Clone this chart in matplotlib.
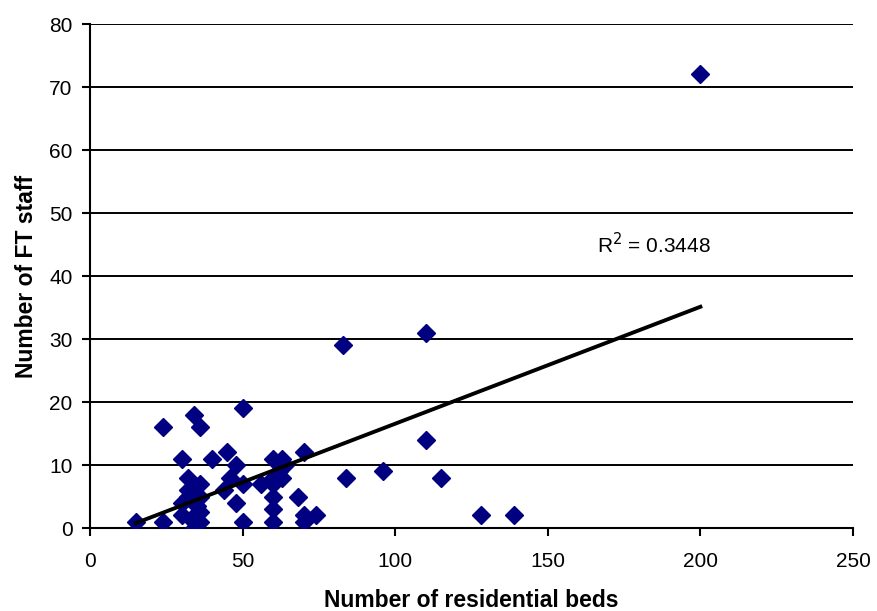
import numpy as np
import matplotlib.pyplot as plt

plt.rcParams['font.family'] = ['Liberation Sans', 'DejaVu Sans']

# residential beds vs full-time staff
beds = [15, 24, 24, 34, 36, 50, 30, 40, 45, 48, 60, 32, 36, 46, 50, 44, 56, 60,
        60, 60, 60, 50, 48, 30, 32, 32, 30, 33, 34, 36, 36, 35, 36, 34,
        83, 110, 110, 70, 84, 96, 115, 128, 139, 68, 70, 74, 70, 63, 63, 64,
        60, 62, 200]
staff = [1, 1, 16, 18, 16, 19, 11, 11, 12, 10, 11, 8, 7, 8, 7, 6, 7, 7,
         5, 3, 1, 1, 4, 4, 6, 5, 2, 1.5, 0, 2.5, 1, 3.5, 5, 6.5,
         29, 31, 14, 12, 8, 9, 8, 2, 2, 5, 2, 2, 1, 11, 8, 10,
         8, 9, 72]
r2_label = 'R$^2$ = 0.3448'

fig = plt.figure(figsize=(8.77, 6.11), dpi=100)
ax = fig.add_axes([0.1026, 0.1358, 0.87, 0.8249])

ax.set_xlim(0, 250)
ax.set_ylim(0, 80)
ax.set_xticks(np.arange(0, 251, 50))
ax.set_yticks(np.arange(0, 81, 10))
ax.yaxis.grid(True, color='black', linewidth=1.4)
ax.set_axisbelow(True)

for s in ['top', 'right']:
    ax.spines[s].set_visible(False)
ax.spines['left'].set_linewidth(1.5)
ax.spines['bottom'].set_linewidth(1.5)
ax.tick_params(direction='out', length=5.5, width=1.5, labelsize=15)
ax.tick_params(axis='x', pad=12)
ax.tick_params(axis='y', pad=7)

ax.plot(beds, staff, linestyle='none', marker='D', markersize=9.5,
        color='#000080', zorder=3)

# linear trend line
b, a = np.polyfit(beds, staff, 1)
xs = np.array([min(beds), max(beds)])
ax.plot(xs, a + b * xs, color='black', linewidth=2.8, zorder=4)

ax.text(166, 45, r2_label, fontsize=15, va='center', ha='left')

ax.set_xlabel('Number of residential beds', fontsize=16.5, fontweight='bold', labelpad=13)
ax.set_ylabel('Number of FT staff', fontsize=16.5, fontweight='bold', labelpad=8)

fig.savefig('out.png', dpi=100)
